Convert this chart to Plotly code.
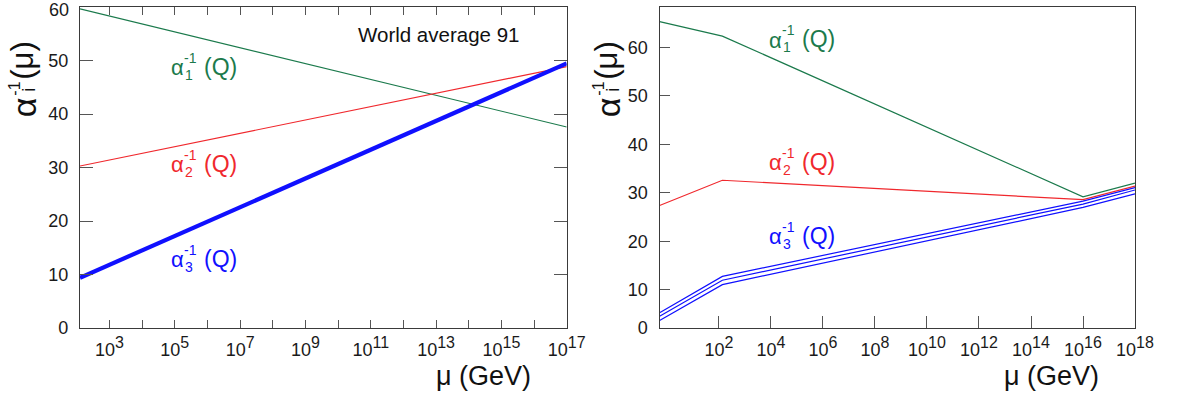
import math
import plotly.graph_objects as go

# ---------------- data ----------------
# Left panel: "World average 91"
mu_left = [125, 1e17]
alpha1_inv_left = [59.7, 37.6]
alpha2_inv_left = [30.3, 48.9]
alpha3_inv_left = [9.4, 49.5]

# Right panel
mu_right = [0.52, 135, 1e16, 1e18]
alpha1_inv_right = [65.3, 62.3, 29.2, 32.0]
alpha2_inv_right = [27.4, 32.6, 28.6, 31.4]
alpha3_inv_right_hi = [5.3, 12.8, 28.3, 31.1]
alpha3_inv_right_mid = [4.6, 12.0, 27.7, 30.6]
alpha3_inv_right_lo = [3.7, 11.1, 27.0, 29.8]

left_x_exponents = list(range(3, 18))
right_x_exponents = list(range(2, 19, 2))
left_y_ticks = [0, 10, 20, 30, 40, 50, 60]
right_y_ticks = [10, 20, 30, 40, 50, 60]

GREEN = "#1b7a4c"
RED = "#f0282d"
BLUE = "#1010ff"
FONT = "Liberation Sans, Arial, sans-serif"
W, H = 1180, 399

fig = go.Figure()

def line(x, y, color, width, xa, ya):
    fig.add_trace(go.Scatter(x=x, y=y, mode="lines", line=dict(color=color, width=width),
                             xaxis=xa, yaxis=ya, showlegend=False, hoverinfo="skip"))

line(mu_left, alpha1_inv_left, GREEN, 1.1, "x", "y")
line(mu_left, alpha2_inv_left, RED, 1.1, "x", "y")
line(mu_left, alpha3_inv_left, BLUE, 4.2, "x", "y")

line(mu_right, alpha1_inv_right, GREEN, 1.2, "x2", "y2")
line(mu_right, alpha2_inv_right, RED, 1.2, "x2", "y2")
line(mu_right, alpha3_inv_right_hi, BLUE, 1.2, "x2", "y2")
line(mu_right, alpha3_inv_right_mid, BLUE, 1.2, "x2", "y2")
line(mu_right, alpha3_inv_right_lo, BLUE, 1.2, "x2", "y2")

def pow_label(k):
    return "10<sup><span style='font-size:16px'>%d</span></sup>" % k

# plot-area pixel geometry
L1, R1 = 80, 566.7
L2, R2 = 659.6, 1135
TOP, BOT = 7.3, 328.3
PW = R2 - L1
PH = BOT - TOP

right_ymin, right_ymax = 2.16, 68.3

tickfont = dict(family=FONT, size=18, color="#1a1a1a")
common = dict(showgrid=False, zeroline=False, showline=True, linecolor="#3a3a3a",
              linewidth=1.3, ticks="inside", tickcolor="#555", tickwidth=1.3,
              tickfont=tickfont, automargin=False, ticklabeloverflow="allow")

# the top label "60" sits just inside the frame (drawn separately below)
left_y_text = [str(v) if v != left_y_ticks[-1] else "" for v in left_y_ticks]

fig.update_layout(
    width=W, height=H,
    margin=dict(l=L1, r=W - R2, t=TOP, b=H - BOT, pad=0, autoexpand=False),
    paper_bgcolor="white", plot_bgcolor="white",
    xaxis=dict(type="log", domain=[0, (R1 - L1) / PW], range=[math.log10(mu_left[0]), 17],
               tickvals=[10 ** k for k in left_x_exponents],
               ticktext=[pow_label(k) if k % 2 == 1 else "" for k in left_x_exponents],
               ticklen=8, mirror="allticks", ticklabelstandoff=5, anchor="y", **common),
    yaxis=dict(domain=[0, 1], range=[0, 60.05],
               tickvals=left_y_ticks, ticktext=left_y_text,
               ticklen=13, mirror="allticks", ticklabelstandoff=7, anchor="x", **common),
    xaxis2=dict(type="log", domain=[(L2 - L1) / PW, 1], range=[math.log10(mu_right[0]), 18],
                tickvals=[10 ** k for k in right_x_exponents],
                ticktext=[pow_label(k) for k in right_x_exponents],
                ticklen=12, mirror=True, ticklabelstandoff=5, anchor="y2", **common),
    yaxis2=dict(domain=[0, 1], range=[right_ymin, right_ymax],
                tickvals=[right_ymin] + right_y_ticks,
                ticktext=["0"] + [str(v) for v in right_y_ticks],
                ticklen=10, mirror=True, ticklabelstandoff=7, anchor="x2", **common),
)

anns = []

def alpha_label(xr, yr, lx, vy, sub, color):
    base = dict(xref=xr, yref=yr, x=lx, y=vy, showarrow=False, yanchor="middle")
    anns.append(dict(base, text="α", xanchor="center", font=dict(family=FONT, size=22, color=color)))
    anns.append(dict(base, text="-1", xanchor="left", xshift=5, yshift=10,
                     font=dict(family=FONT, size=14, color=color)))
    anns.append(dict(base, text=sub, xanchor="left", xshift=6, yshift=-7,
                     font=dict(family=FONT, size=14, color=color)))
    anns.append(dict(base, text="(Q)", xanchor="left", xshift=25, yshift=1,
                     font=dict(family=FONT, size=23, color=color)))

alpha_label("x", "y", 5.07, 48.65, "1", GREEN)
alpha_label("x", "y", 5.07, 30.5, "2", RED)
alpha_label("x", "y", 5.07, 12.8, "3", BLUE)
alpha_label("x2", "y2", 4.16, 61.4, "1", GREEN)
alpha_label("x2", "y2", 4.16, 36.2, "2", RED)
alpha_label("x2", "y2", 4.16, 21.0, "3", BLUE)

def px(xp, yp):
    # page pixel -> paper (plot-area) fraction
    return (xp - L1) / PW, (BOT - yp) / PH

def paper_text(xp, yp, text, size, xanchor="center", angle=0, color="#111"):
    xx, yy = px(xp, yp)
    anns.append(dict(xref="paper", yref="paper", x=xx, y=yy, text=text, textangle=angle,
                     showarrow=False, xanchor=xanchor, yanchor="middle",
                     font=dict(family=FONT, size=size, color=color)))

paper_text(71, 10, str(left_y_ticks[-1]), 18, xanchor="right", color="#1a1a1a")
paper_text(521, 35, "World average 91", 20.5, xanchor="right")

def y_title(x0):
    # x0: pixel x of the alpha centre
    for dx, yp, t, s in [(0, 107.5, "α", 34), (-9, 89, "-1", 16), (5, 90, "i", 18), (-1, 61, "(μ)", 31)]:
        paper_text(x0 + dx, yp, t, s, angle=-90)

y_title(24)
y_title(608)

for xr in (533, 1101):
    paper_text(xr, 376, "μ (GeV)", 27, xanchor="right")

fig.update_layout(annotations=anns)
fig.write_html("out.html", config={"displayModeBar": False},
               post_script="document.body.style.margin='0';")
